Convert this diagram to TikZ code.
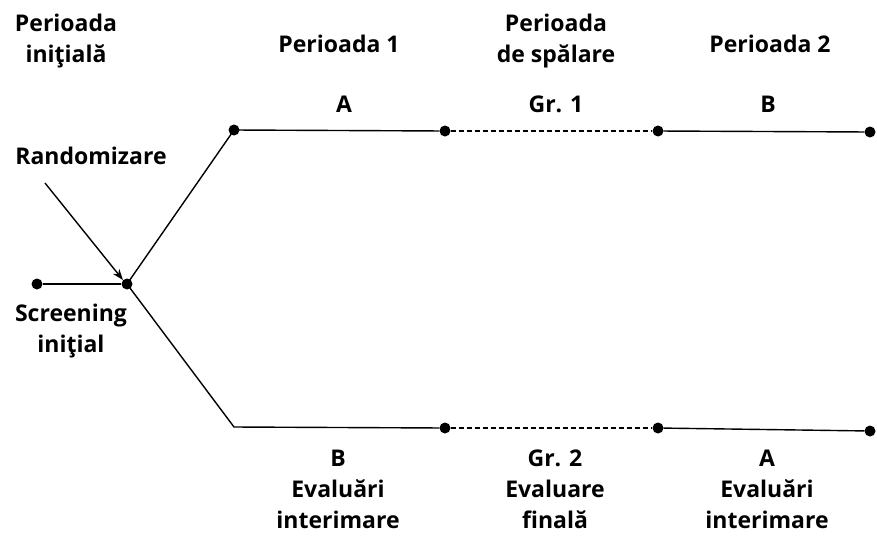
\documentclass[tikz,border=0pt]{standalone}
\usepackage{fontspec}
\setmainfont{Open Sans}
\usetikzlibrary{arrows.meta}
\usetikzlibrary{positioning}

\tikzset{
	dot/.style={circle,fill=black,inner sep=0pt,minimum size=11pt},
	lbl/.style={font=\bfseries\fontsize{23}{31}\selectfont,align=center,inner sep=0pt},
	arm/.style={line width=1.4pt},
	wash/.style={line width=1.4pt,dashed,dash pattern=on 5pt off 3pt}
}

\begin{document}
\begin{tikzpicture}[x=1pt,y=-1pt]
		\useasboundingbox (0,0) rectangle (877,536);
		% dots
		\node[dot] (s0) at (37,284) {};
		\node[dot] (r) at (127,284) {};
		\node[dot] (a1) at (234,130) {};
		\node[dot] (a2) at (445,131) {};
		\node[dot] (a3) at (658,131) {};
		\node[dot] (a4) at (870,132) {};
		\coordinate (b1) at (234,427);
		\node[dot] (b2) at (445,428) {};
		\node[dot] (b3) at (658,428) {};
		\node[dot] (b4) at (870,431) {};
		% arms
		\draw[arm] (s0) -- (r);
		\draw[arm] (r.center) -- (a1.center) -- (a2);
		\draw[wash] (a2) -- (a3);
		\draw[arm] (a3) -- (a4);
		\draw[arm] (r.center) -- (b1) -- (b2);
		\draw[wash] (b2) -- (b3);
		\draw[arm] (b3) -- (b4);
		% headings
		\node[lbl] (h0) at (66,41) {Perioada\\iniţială};
		\node[lbl] (h1) at (339,44) {Perioada 1};
		\node[lbl] (h2) at (556,41) {Perioada\\de spălare};
		\node[lbl] (h3) at (770,44) {Perioada 2};
		% upper labels
		\node[lbl] (ua) at (344,104) {A};
		\node[lbl] (ug) at (556,104) {Gr. 1};
		\node[lbl] (ub) at (768,104) {B};
		% lower labels
		\node[lbl] (la) at (338,489) {B\\Evaluări\\interimare};
		\node[lbl] (lg) at (555,489) {Gr. 2\\Evaluare\\finală};
		\node[lbl] (lb) at (767,489) {A\\Evaluări\\interimare};
		% left side
		\node[lbl] (rand) at (91,156) {Randomizare};
		\node[lbl] (scr) at (71,331) {Screening\\iniţial};
		\draw[line width=1.4pt,-{Stealth[length=11pt,width=8pt]}] (45,183) -- (r.north west);
	\end{tikzpicture}
\end{document}
